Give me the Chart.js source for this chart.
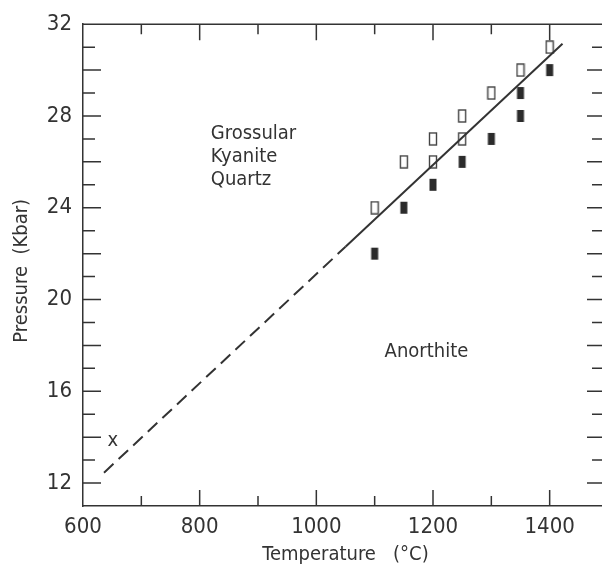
<!DOCTYPE html>
<html>
<head>
<meta charset="utf-8">
<script src="https://cdn.jsdelivr.net/npm/chart.js@4.4.1/dist/chart.umd.min.js"></script>
<style>
  html, body { margin: 0; padding: 0; overflow: hidden; background: #fff; }
  #wrap { width: 615px; height: 571px; }
</style>
</head>
<body>
<div id="wrap"><canvas id="pt"></canvas></div>
<script>
// experiment points (T in degC, P in kbar)
var openT = [1100, 1150, 1200, 1200, 1250, 1250, 1300, 1350, 1400];
var openP = [24, 26, 27, 26, 28, 27, 29, 30, 31];
var fillT = [1100, 1150, 1200, 1250, 1300, 1350, 1350, 1400];
var fillP = [22, 24, 25, 26, 27, 29, 28, 30];
// reaction boundary, extrapolated part dashed
var dashT = [636, 1050];
var dashP = [12.45, 22.3];
var solidT = [1050, 1422];
var solidP = [22.3, 31.15];
var xTicks = [600, 800, 1000, 1200, 1400];
var yTicks = [12, 16, 20, 24, 28, 32];
var fieldText = ["Grossular", "Kyanite", "Quartz", "Anorthite", "x"];
var fieldT = [819, 819, 819, 1117, 651];
var fieldP = [27, 26, 25, 17.5, 13.6];

var INK = "#333";
var FONT = '"DejaVu Sans Condensed", "Liberation Sans Narrow", "Liberation Sans", sans-serif';

function pts(xs, ys) {
  return xs.map(function (x, i) { return { x: x, y: ys[i] }; });
}

function boxMarker(filled) {
  var cv = document.createElement("canvas");
  cv.width = 10; cv.height = 14;
  var g = cv.getContext("2d");
  if (filled) {
    g.fillStyle = "#2b2b2b";
    g.fillRect(1.5, 1, 7, 12);
  } else {
    g.fillStyle = "#fff";
    g.fillRect(1, 0.5, 8, 13);
    g.strokeStyle = "#444";
    g.lineWidth = 1.4;
    g.strokeRect(1.5, 1, 7, 12);
  }
  return cv;
}

var frame = {
  id: "frame",
  afterDraw: function (chart) {
    var c = chart.ctx, xs = chart.scales.x, ys = chart.scales.y, a = chart.chartArea;
    c.save();
    c.strokeStyle = INK;
    c.lineWidth = 1.5;
    c.beginPath();
    c.moveTo(a.left, a.top); c.lineTo(a.right, a.top); c.lineTo(a.right, a.bottom);
    for (var t = 700; t < 1500; t += 100) {
      var px = xs.getPixelForValue(t), len = t % 200 === 0 ? 16 : 10;
      c.moveTo(px, a.bottom); c.lineTo(px, a.bottom - len);
      c.moveTo(px, a.top); c.lineTo(px, a.top + len);
    }
    for (var p = 12; p < 32; p++) {
      var py = ys.getPixelForValue(p), ll = p % 2 === 0 ? 18 : 12, rl = p % 2 === 0 ? 21 : 16;
      c.moveTo(a.left, py); c.lineTo(a.left + ll, py);
      c.moveTo(a.right, py); c.lineTo(a.right - rl, py);
    }
    c.stroke();
    c.fillStyle = INK;
    c.font = "20px " + FONT;
    c.textBaseline = "alphabetic";
    for (var i = 0; i < fieldText.length; i++) {
      var tx = xs.getPixelForValue(fieldT[i]), ty = ys.getPixelForValue(fieldP[i]);
      c.textAlign = fieldText[i] === "x" ? "center" : "left";
      c.fillText(fieldText[i], tx, ty);
    }
    c.restore();
  }
};

new Chart(document.getElementById("pt"), {
  type: "scatter",
  data: {
    datasets: [
      { data: pts(dashT, dashP), showLine: true, borderColor: INK, borderWidth: 2,
        borderDash: [13, 7], pointRadius: 0 },
      { data: pts(solidT, solidP), showLine: true, borderColor: INK, borderWidth: 2,
        pointRadius: 0 },
      { data: pts(openT, openP), pointStyle: boxMarker(false) },
      { data: pts(fillT, fillP), pointStyle: boxMarker(true) }
    ]
  },
  options: {
    responsive: true,
    maintainAspectRatio: false,
    animation: false,
    layout: { padding: { top: 22, right: 7, left: 0, bottom: 0 } },
    plugins: { legend: { display: false }, tooltip: { enabled: false } },
    scales: {
      x: {
        type: "linear", min: 600, max: 1500,
        afterFit: function (s) { s.height = 65; },
        afterBuildTicks: function (s) { s.ticks = xTicks.map(function (v) { return { value: v }; }); },
        grid: { display: false, drawTicks: false },
        border: { display: true, color: INK, width: 1.5 },
        ticks: { color: INK, font: { family: FONT, size: 22 }, padding: 8, maxRotation: 0,
                 callback: function (v) { return String(v); } },
        title: { display: true, text: "Temperature   (\u00b0C)", color: INK,
                 font: { family: FONT, size: 20 }, padding: { top: 0, bottom: 4 } }
      },
      y: {
        type: "linear", min: 11, max: 32,
        afterFit: function (s) { s.width = 83; },
        afterBuildTicks: function (s) { s.ticks = yTicks.map(function (v) { return { value: v }; }); },
        grid: { display: false, drawTicks: false },
        border: { display: true, color: INK, width: 1.5 },
        ticks: { color: INK, font: { family: FONT, size: 22 }, padding: 11,
                 callback: function (v) { return String(v); } },
        title: { display: true, text: "Pressure  (Kbar)  ", color: INK,
                 font: { family: FONT, size: 20 }, padding: { top: 10, bottom: 0 } }
      }
    }
  },
  plugins: [frame]
});
</script>
</body>
</html>
